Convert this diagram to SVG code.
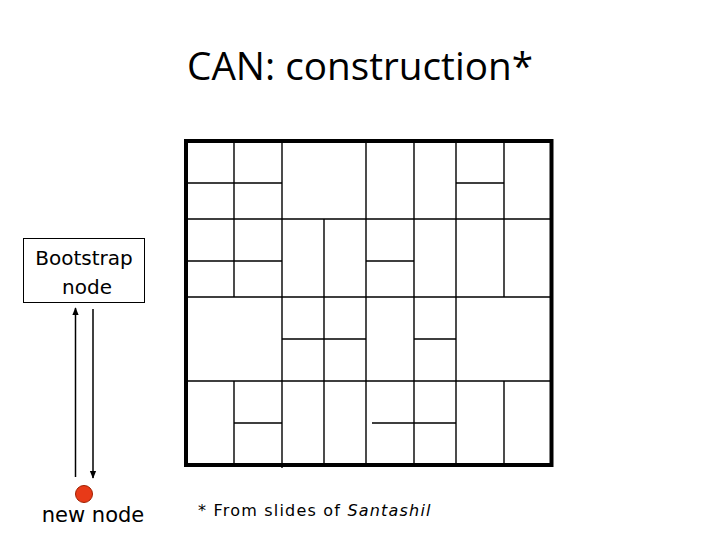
<svg xmlns="http://www.w3.org/2000/svg" width="720" height="540" viewBox="0 0 720 540">
<style>
text{font-family:"DejaVu Sans","Liberation Sans",sans-serif;fill:#000}
.g{stroke:#000;stroke-width:1.4;fill:none}
.c{stroke:#000;stroke-width:1.5}
</style>
<defs><marker id="a" viewBox="0 0 10 10" refX="9" refY="5" markerWidth="8" markerHeight="8" markerUnits="userSpaceOnUse" orient="auto"><path d="M0,1L10,5L0,9z" fill="#000"/></marker></defs>
<rect width="720" height="540" fill="#fff"/>
<text x="360" y="80" font-size="38" text-anchor="middle" style="font-family:'Open Sans','DejaVu Sans',sans-serif" textLength="346" lengthAdjust="spacingAndGlyphs">CAN: construction*</text>
<g id="grid">
<path class="g" d="M186,219H551M186,297H551M186,381H551M186,183H282M456,183H504M186,261H282M366,261H414M282,339H366M414,339H456M234,423H282M372,423H456M234,141V297M234,381V465M282,141V468M324,219V465M366,141V465M414,141V465M456,141V465M504,141V297M504,381V465"/>
<rect x="186" y="141" width="365.5" height="324" fill="none" stroke="#000" stroke-width="4"/>
</g>
<g id="bootstrap"><rect x="23.5" y="238.5" width="121" height="64" fill="#fff" stroke="#000" stroke-width="1"/>
<text x="84" y="265" font-size="20" text-anchor="middle">Bootstrap</text>
<text x="87" y="294" font-size="20" text-anchor="middle">node</text></g>
<g id="newnode"><circle cx="84" cy="494" r="8.5" fill="#e83a18" stroke="#a02000" stroke-width="1"/>
<text x="93" y="522" font-size="21" text-anchor="middle">new node</text></g>
<g id="connectors">
<line class="c" x1="75.5" y1="477" x2="75.5" y2="308" marker-end="url(#a)"/>
<line class="c" x1="93" y1="309" x2="93" y2="478" marker-end="url(#a)"/>
</g>
<text x="198" y="516" font-size="16" letter-spacing="1.2">* From slides of <tspan font-style="italic">Santashil</tspan></text>
</svg>
